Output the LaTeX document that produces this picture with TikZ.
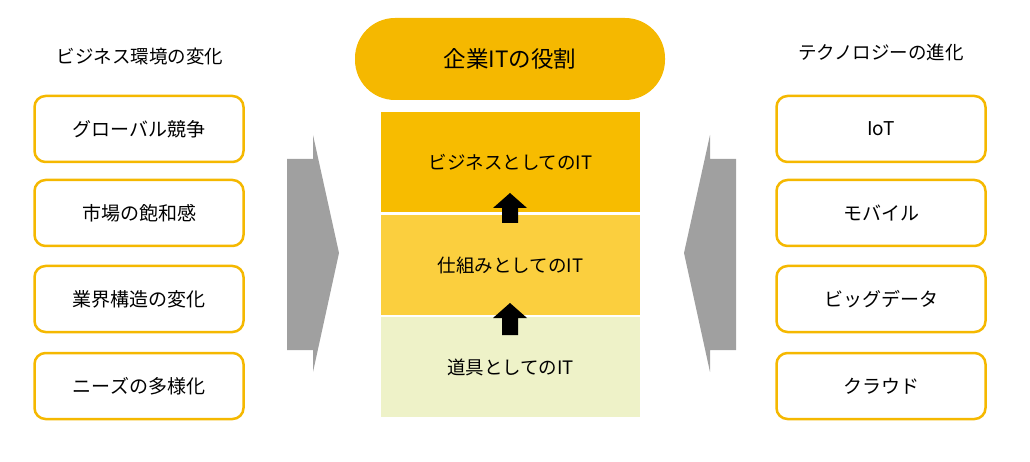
\documentclass[tikz,border=0pt]{standalone}
\usepackage{fontspec}
\setmainfont{Noto Sans CJK JP}
\definecolor{og}{HTML}{F5B800}
\definecolor{c1}{HTML}{F7BC00}
\definecolor{c2}{HTML}{FBCF3E}
\definecolor{c3}{HTML}{EEF2C8}
\definecolor{gr}{HTML}{A0A0A0}
\begin{document}
\begin{tikzpicture}[x=1pt,y=-1pt,
  sbox/.style={draw=og,line width=2.5pt,rounded corners=11pt,fill=white,minimum width=209pt,minimum height=66pt,font=\fontsize{19}{22}\selectfont},
  layer/.style={minimum width=259pt,minimum height=100pt,inner sep=0pt,font=\fontsize{18.5}{22}\selectfont},
  ttl/.style={font=\fontsize{18.5}{22}\selectfont}]
\path[use as bounding box] (0,0) rectangle (1030,462);
\node[ttl] (lt) at (140,57) {ビジネス環境の変化};
\node[ttl] (rt) at (881,52) {テクノロジーの進化};
\foreach \n/\y/\t in {l1/129/グローバル競争,l2/213/市場の飽和感,l3/299/業界構造の変化,l4/386/ニーズの多様化}
  \node[sbox] (\n) at (139,\y) {\t};
\foreach \n/\y/\t in {r1/129/IoT,r2/213/モバイル,r3/299/ビッグデータ,r4/386/クラウド}
  \node[sbox] (\n) at (881,\y) {\t};
\node[fill=og,rounded corners=40pt,minimum width=310pt,minimum height=82pt,font=\fontsize{22.5}{26}\selectfont] (top) at (510,59) {企業ITの役割};
\node[layer,fill=c1] (a) at (510.5,162) {ビジネスとしてのIT};
\node[layer,fill=c2] (b) at (510.5,265) {仕組みとしてのIT};
\node[layer,fill=c3] (c) at (510.5,367) {道具としてのIT};
\fill (502,223)--(502,208)--(493,208)--(510,193)--(527,208)--(518,208)--(518,223)--cycle;
\fill (502,335)--(502,318)--(493,318)--(510,303)--(527,318)--(518,318)--(518,335)--cycle;
\fill[gr] (287,159)--(313,159)--(313,135)--(339,253)--(313,372)--(313,350)--(287,350)--cycle;
\fill[gr] (736,159)--(710,159)--(710,135)--(684,253)--(710,372)--(710,350)--(736,350)--cycle;
\end{tikzpicture}
\end{document}
